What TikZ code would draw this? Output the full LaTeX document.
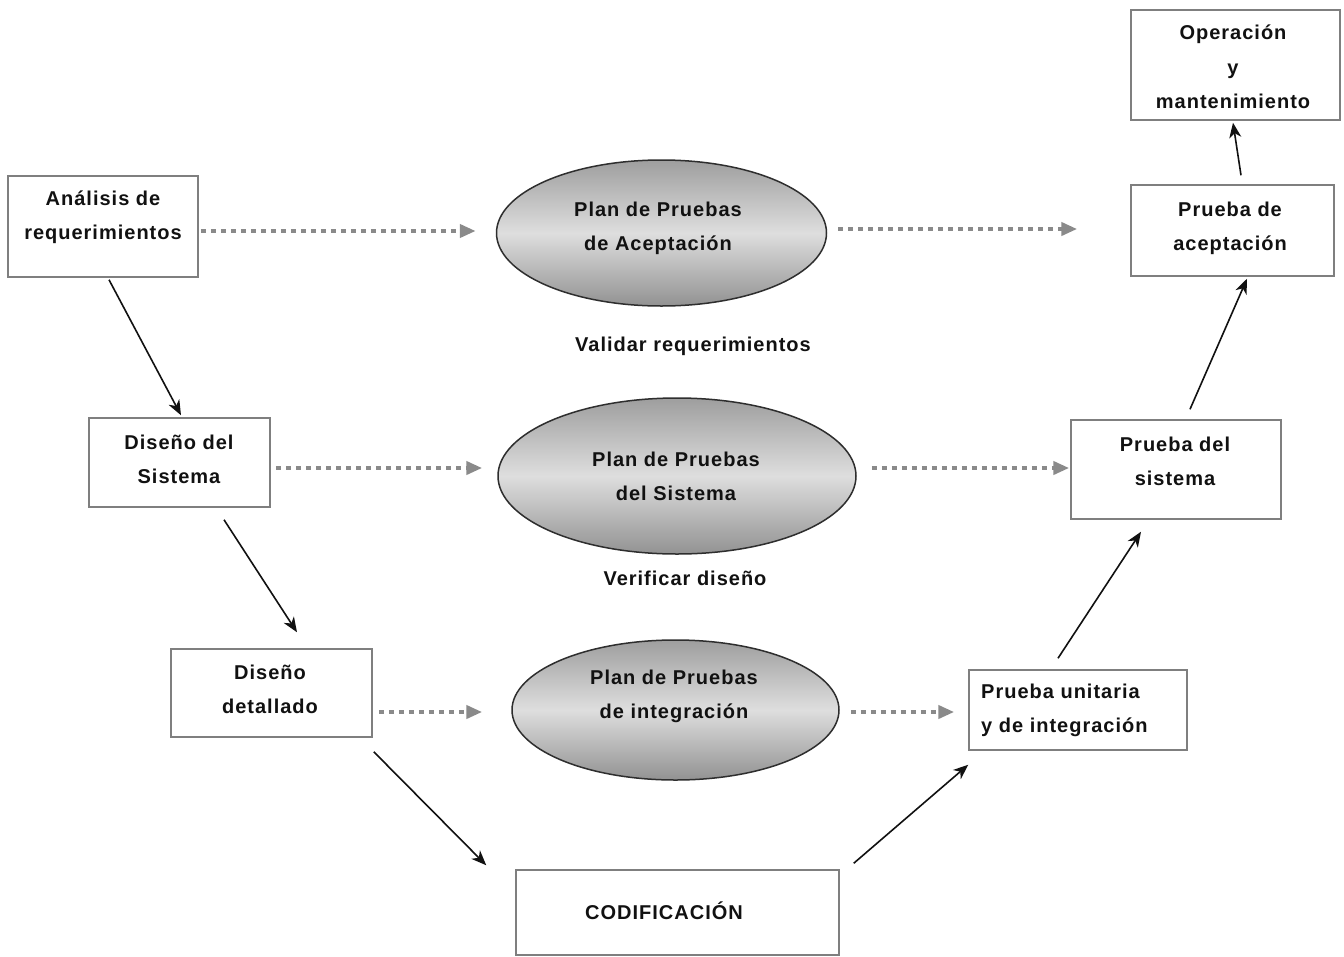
\documentclass[tikz,border=0pt]{standalone}
\usepackage{fontspec}
\setmainfont{Liberation Sans}[LetterSpace=5]
\usetikzlibrary{arrows.meta,shapes.geometric,calc}
\definecolor{boxline}{HTML}{7F7F7F}
\definecolor{ink}{HTML}{111111}
\definecolor{dotgray}{HTML}{8A8A8A}
\definecolor{ovaltop}{HTML}{9E9E9E}
\definecolor{ovalmid}{HTML}{DEDEDE}
\definecolor{ovalbot}{HTML}{929292}
\definecolor{ovalline}{HTML}{2E2E2E}
\tikzset{
  stagebox/.style={draw=boxline, line width=1.5pt, fill=white, inner sep=0pt},
  oval/.style={ellipse, draw=ovalline, line width=1.5pt, inner sep=0pt,
    top color=ovaltop, bottom color=ovalbot, middle color=ovalmid},
  lbl/.style={font=\bfseries\fontsize{20}{34}\selectfont, text=ink, align=center, inner sep=0pt},
  flow/.style={draw=ink, line width=1.6pt, -{Stealth[length=15pt 0 0, width=12pt 0, inset=4.5pt 0]}},
  plan/.style={draw=dotgray, line width=4pt, dash pattern=on 5pt off 5pt,
    -{Triangle[length=16pt 0 0, width=13pt 0, fill=dotgray]}}
}
\begin{document}
\begin{tikzpicture}[x=1pt, y=-1pt]
\useasboundingbox[fill=white] (0,0) rectangle (1344,956);

% left branch: development stages
\node[stagebox, minimum width=190pt, minimum height=101pt] (a) at (103,226.5) {};
\node[lbl] (ta) at (103,217) {Análisis de\\requerimientos};
\node[stagebox, minimum width=181pt, minimum height=89pt] (ds) at (179.5,462.5) {};
\node[lbl] (tds) at (179,459) {Diseño del\\Sistema};
\node[stagebox, minimum width=201pt, minimum height=88pt] (dd) at (271.5,693) {};
\node[lbl] (tdd) at (270,689) {Diseño\\detallado};
\node[stagebox, minimum width=323pt, minimum height=85pt] (cod) at (677.5,912.5) {};
\node[lbl] (tcod) at (664,911) {CODIFICACIÓN};

% right branch: testing stages
\node[stagebox, minimum width=218pt, minimum height=80pt] (pu) at (1078,710) {};
\node[lbl, align=left, anchor=west] (tpu) at (981,710.5) {Prueba unitaria\\y de integración};
\node[stagebox, minimum width=210pt, minimum height=99pt] (ps) at (1176,469.5) {};
\node[lbl] (tps) at (1175,461.5) {Prueba del\\sistema};
\node[stagebox, minimum width=203pt, minimum height=91pt] (pa) at (1232.5,230.5) {};
\node[lbl] (tpa) at (1230,228) {Prueba de\\aceptación};
\node[stagebox, minimum width=209pt, minimum height=110pt] (om) at (1235.5,65) {};
\node[lbl, font=\bfseries\fontsize{20}{34.5}\selectfont] (tom) at (1233,67) {Operación\\y\\mantenimiento};

% test plans
\node[oval, minimum width=330pt, minimum height=146pt] (e1) at (661.5,233) {};
\node[lbl] (te1) at (658,228) {Plan de Pruebas\\de Aceptación};
\node[oval, minimum width=358pt, minimum height=156pt] (e2) at (677,476) {};
\node[lbl] (te2) at (676,476) {Plan de Pruebas\\del Sistema};
\node[oval, minimum width=327pt, minimum height=140pt] (e3) at (675.5,710) {};
\node[lbl] (te3) at (674,696) {Plan de Pruebas\\de integración};

\node[lbl] (v1) at (693,346) {Validar requerimientos};
\node[lbl] (v2) at (685,578) {Verificar diseño};

% development and testing flow
\draw[flow] ($(a.south)+(6,2)$) -- ($(ds.north)+(1.5,-2)$);
\draw[flow] ($(ds.south)+(44.5,12)$) -- ($(dd.north)+(25.5,-16)$);
\draw[flow] ($(dd.south east)+(1,14)$) -- ($(cod.north west)+(-29,-4)$);
\draw[flow] ($(cod.north east)+(14,-6)$) -- ($(pu.south west)+(0,14)$);
\draw[flow] ($(pu.north)+(-20,-11)$) -- ($(ps.south)+(-35,12)$);
\draw[flow] ($(ps.north)+(14,-10)$) -- ($(pa.south)+(14.5,2)$);
\draw[flow] ($(pa.north)+(8.5,-9)$) -- ($(om.south)+(-2.5,2)$);

% plan links
\draw[plan] ($(a.east)+(2,4.5)$) -- ($(e1.west)+(-20,-2)$);
\draw[plan] ($(e1.east)+(11,-4)$) -- ($(pa.west)+(-53,-1.5)$);
\draw[plan] ($(ds.east)+(5,5.5)$) -- ($(e2.west)+(-15,-8)$);
\draw[plan] ($(e2.east)+(15,-8)$) -- ($(ps.west)+(-1,-1.5)$);
\draw[plan] ($(dd.east)+(6,19)$) -- ($(e3.west)+(-29,2)$);
\draw[plan] ($(e3.east)+(11,2)$) -- ($(pu.west)+(-14,2)$);
\end{tikzpicture}
\end{document}
